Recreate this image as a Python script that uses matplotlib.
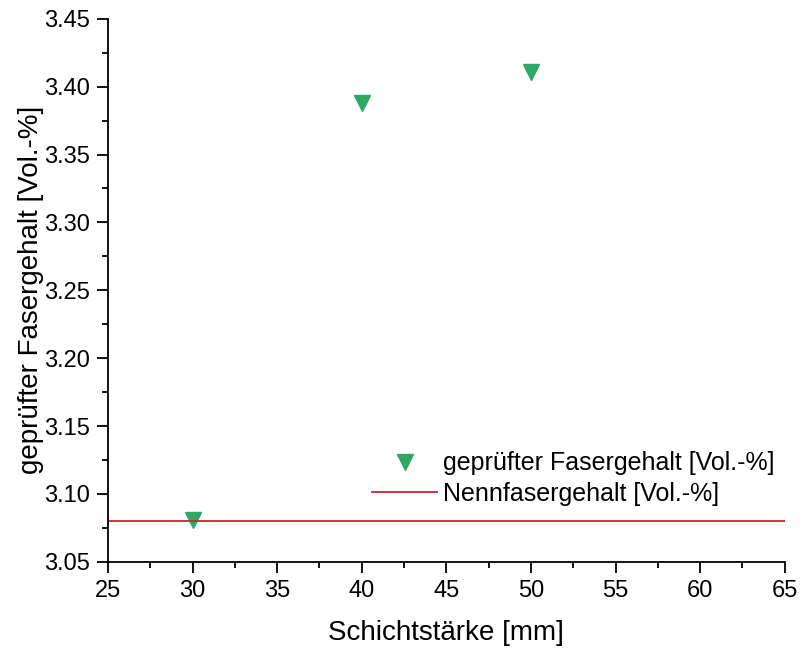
import matplotlib.pyplot as plt
from matplotlib.ticker import MultipleLocator

plt.rcParams['font.family'] = ['Liberation Sans', 'DejaVu Sans']

schicht = [30, 40, 50]
fasergehalt = [3.081, 3.388, 3.411]
nenn = 3.08

fig = plt.figure(figsize=(8, 6.48), dpi=100)
ax = fig.add_axes([0.135, 0.133, 0.846, 0.838])

ax.plot(schicht, fasergehalt, linestyle='none', marker='v', markersize=11,
        color='#2ea866', label='geprüfter Fasergehalt [Vol.-%]')
ax.axhline(nenn, color='#d0202a', linewidth=1.3, label='Nennfasergehalt [Vol.-%]')

ax.set_xlim(25, 65)
ax.set_ylim(3.05, 3.45)
ax.xaxis.set_major_locator(MultipleLocator(5))
ax.xaxis.set_minor_locator(MultipleLocator(2.5))
ax.yaxis.set_major_locator(MultipleLocator(0.05))
ax.yaxis.set_minor_locator(MultipleLocator(0.025))
ax.yaxis.set_major_formatter(plt.FormatStrFormatter('%.2f'))
ax.spines['top'].set_visible(False)
ax.spines['right'].set_visible(False)
for s in ('left', 'bottom'):
    ax.spines[s].set_linewidth(1.3)
ax.tick_params(which='major', direction='out', length=8, width=1.3, labelsize=17, pad=5)
ax.tick_params(which='minor', direction='out', length=4, width=1.3)

ax.set_xlabel('Schichtstärke [mm]', fontsize=20, labelpad=13)
ax.set_ylabel('geprüfter Fasergehalt [Vol.-%]', fontsize=20, labelpad=0)

ax.legend(loc='lower right', bbox_to_anchor=(1.0, 0.085), frameon=False,
          fontsize=18, handlelength=2.6, handletextpad=0.25, labelspacing=0.25,
          borderaxespad=0.0)

fig.savefig('out.png', dpi=100)
